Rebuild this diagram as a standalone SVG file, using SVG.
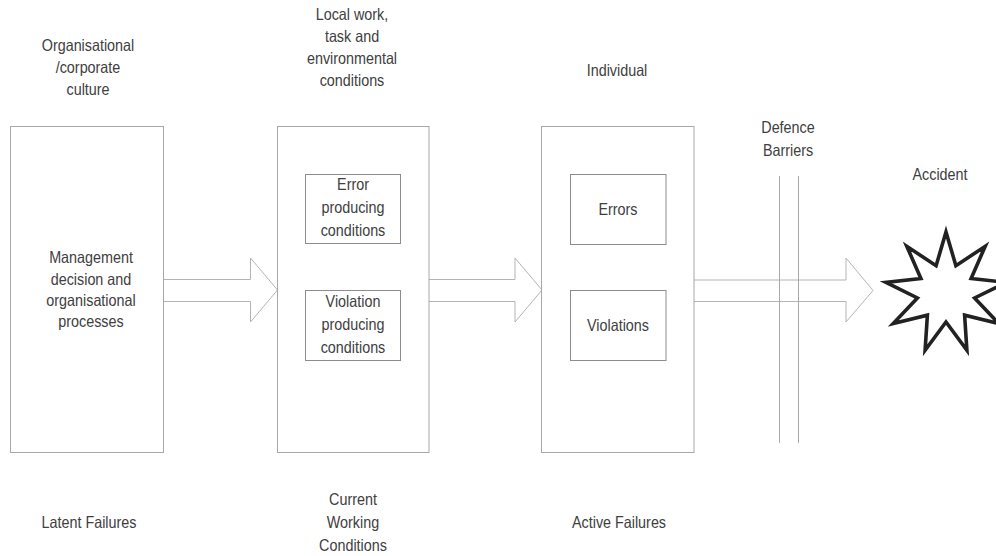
<svg xmlns="http://www.w3.org/2000/svg" width="996" height="556" viewBox="0 0 996 556">
  <style>
    text { font-family: "Liberation Sans", Arial, sans-serif; font-size: 16.5px; fill: #404040; text-anchor: middle; }
    .stage { fill: none; stroke: #a8a8a8; stroke-width: 1; }
    .inner { fill: none; stroke: #8c8c8c; stroke-width: 1; }
    .flow { fill: none; stroke: #b4b4b4; stroke-width: 1; }
    .barrier { stroke: #a8a8a8; stroke-width: 1; }
    .burst { fill: #ffffff; stroke: #222222; stroke-width: 3.6; stroke-linejoin: miter; }
  </style>
  <rect width="996" height="556" fill="#ffffff"/>

  <!-- labels are set in a narrowed sans: each block is squeezed to 87% width around its centre x -->

  <!-- column headings -->
  <g id="heading-organisational">
    <g transform="matrix(0.87 0 0 1 88 0)">
      <text x="0" y="51">Organisational</text>
      <text x="0" y="73">/corporate</text>
      <text x="0" y="95">culture</text>
    </g>
  </g>
  <g id="heading-local">
    <g transform="matrix(0.87 0 0 1 352 0)">
      <text x="0" y="20">Local work,</text>
      <text x="0" y="42">task and</text>
      <text x="0" y="64">environmental</text>
      <text x="0" y="86">conditions</text>
    </g>
  </g>
  <g id="heading-individual">
    <g transform="matrix(0.87 0 0 1 617 0)">
      <text x="0" y="76">Individual</text>
    </g>
  </g>

  <!-- connectors -->
  <g id="connectors">
    <path class="flow" d="M163.5,279.5 H250.5 V258 L277.5,290 L250.5,322 V301.5 H163.5"/>
    <path class="flow" d="M429,279.5 H515 V258 L542,290 L515,322 V301.5 H429"/>
    <path class="flow" d="M694,280 H846 V258 L873,290.5 L846,322 V301.5 H694"/>
  </g>

  <!-- stage 1 -->
  <g id="management">
    <rect class="stage" x="10.5" y="126.5" width="153" height="326"/>
    <g transform="matrix(0.87 0 0 1 91 0)">
      <text x="0" y="263">Management</text>
      <text x="0" y="285">decision and</text>
      <text x="0" y="306">organisational</text>
      <text x="0" y="327">processes</text>
    </g>
  </g>

  <!-- stage 2 -->
  <g id="working-conditions">
    <rect class="stage" x="277.5" y="126.5" width="151.5" height="326"/>
  </g>
  <g id="error-conditions">
    <rect class="inner" x="305.5" y="174.5" width="95" height="69"/>
    <g transform="matrix(0.87 0 0 1 353 0)">
      <text x="0" y="190">Error</text>
      <text x="0" y="213">producing</text>
      <text x="0" y="236">conditions</text>
    </g>
  </g>
  <g id="violation-conditions">
    <rect class="inner" x="305.5" y="290.5" width="95" height="70"/>
    <g transform="matrix(0.87 0 0 1 353 0)">
      <text x="0" y="307">Violation</text>
      <text x="0" y="330">producing</text>
      <text x="0" y="353">conditions</text>
    </g>
  </g>

  <!-- stage 3 -->
  <g id="individual">
    <rect class="stage" x="541.5" y="126.5" width="152.5" height="326"/>
  </g>
  <g id="errors">
    <rect class="inner" x="570.5" y="174.5" width="95.5" height="70"/>
    <g transform="matrix(0.87 0 0 1 618 0)">
      <text x="0" y="215">Errors</text>
    </g>
  </g>
  <g id="violations">
    <rect class="inner" x="570.5" y="290.5" width="95.5" height="70"/>
    <g transform="matrix(0.87 0 0 1 618 0)">
      <text x="0" y="331">Violations</text>
    </g>
  </g>

  <!-- defence barriers -->
  <g id="defence-barriers">
    <g transform="matrix(0.87 0 0 1 788 0)">
      <text x="0" y="133">Defence</text>
      <text x="0" y="156">Barriers</text>
    </g>
    <line class="barrier" x1="779.5" y1="176" x2="779.5" y2="443"/>
    <line class="barrier" x1="798.5" y1="176" x2="798.5" y2="443"/>
  </g>

  <!-- accident -->
  <g id="accident">
    <g transform="matrix(0.87 0 0 1 940 0)">
      <text x="0" y="180">Accident</text>
    </g>
    <polygon class="burst" points="946,232 955.9,265.7 985.2,246.3 971.1,278.5 1006.1,282.4 974.6,298 998.8,323.5 964.6,315.2 966.9,350.3 946,322 925.1,350.3 927.4,315.2 893.2,323.5 917.4,298 885.9,282.4 920.9,278.5 906.8,246.3 936.1,265.7"/>
  </g>

  <!-- footer labels -->
  <g id="latent-failures">
    <g transform="matrix(0.87 0 0 1 89 0)">
      <text x="0" y="528">Latent Failures</text>
    </g>
  </g>
  <g id="current-working-conditions">
    <g transform="matrix(0.87 0 0 1 353 0)">
      <text x="0" y="505">Current</text>
      <text x="0" y="528">Working</text>
      <text x="0" y="551">Conditions</text>
    </g>
  </g>
  <g id="active-failures">
    <g transform="matrix(0.87 0 0 1 619 0)">
      <text x="0" y="528">Active Failures</text>
    </g>
  </g>
</svg>
